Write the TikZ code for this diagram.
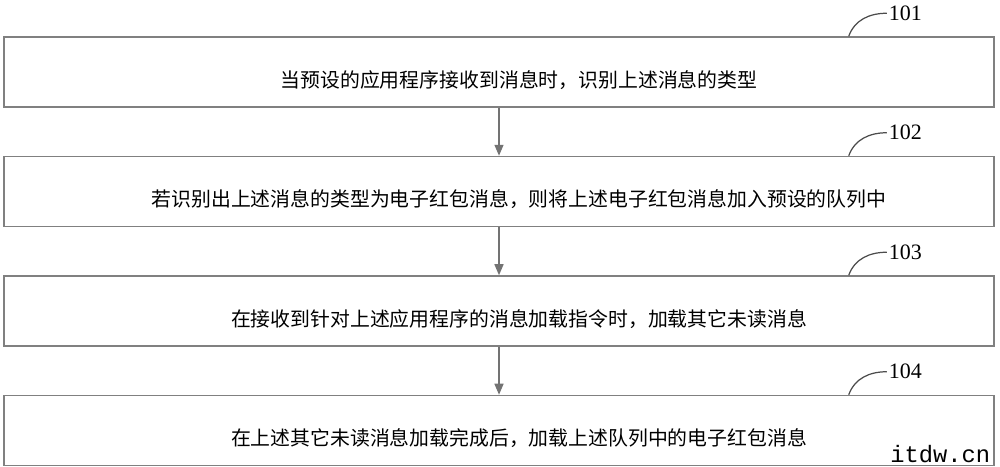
\documentclass[tikz,border=0pt]{standalone}
\usepackage{fontspec}
\setmainfont{Liberation Serif}
\setmonofont{Liberation Mono}
\newfontfamily\cjk{Noto Sans CJK SC}
\usetikzlibrary{calc, positioning, arrows.meta}

\begin{document}
\begin{tikzpicture}
		[node distance=0.96cm,
		 stepbox/.style={draw=black!50, line width=0.85pt, minimum width=19.8cm, minimum height=1.4cm, inner sep=0pt},
		 steptext/.style={font=\cjk\fontsize{11.3}{13}\selectfont, xshift=0.4cm, yshift=-0.16cm},
		 num/.style={font=\fontsize{12.5}{14}\selectfont, inner sep=1pt, anchor=west},
		 flow/.style={-{Triangle[length=2.2mm, width=1.8mm]}, draw=black!55, line width=0.8pt},
		 lead/.style={draw=black!70, line width=0.7pt}]
	
		\clip (0,0) rectangle (20,-9.32);
	
		% nodes %
		\node[stepbox, label={[steptext]center:{当预设的应用程序接收到消息时，识别上述消息的类型}}] (s1) at (9.98,-1.44) {};
		\node[stepbox, below = of s1, label={[steptext]center:{若识别出上述消息的类型为电子红包消息，则将上述电子红包消息加入预设的队列中}}] (s2) {};
		\node[stepbox, below = of s2, label={[steptext]center:{在接收到针对上述应用程序的消息加载指令时，加载其它未读消息}}] (s3) {};
		\node[stepbox, below = of s3, label={[steptext]center:{在上述其它未读消息加载完成后，加载上述队列中的电子红包消息}}] (s4) {};
	
		% labels %
		\node[num] (n1) at ($(s1.north east)+(-2.16,0.46)$) {101};
		\node[num] (n2) at ($(s2.north east)+(-2.16,0.46)$) {102};
		\node[num] (n3) at ($(s3.north east)+(-2.16,0.46)$) {103};
		\node[num] (n4) at ($(s4.north east)+(-2.16,0.46)$) {104};
		\coordinate (c1) at ($(s1.north east)+(-2.92,0)$);
		\coordinate (c2) at ($(s2.north east)+(-2.92,0)$);
		\coordinate (c3) at ($(s3.north east)+(-2.92,0)$);
		\coordinate (c4) at ($(s4.north east)+(-2.92,0)$);
	
		% edges %
		\draw[flow] (s1) -- (s2);
		\draw[flow] (s2) -- (s3);
		\draw[flow] (s3) -- (s4);
		\draw[lead] (c1) to[out=70, in=180] (n1.west);
		\draw[lead] (c2) to[out=70, in=180] (n2.west);
		\draw[lead] (c3) to[out=70, in=180] (n3.west);
		\draw[lead] (c4) to[out=70, in=180] (n4.west);
	
		% watermark %
		\node[anchor=base west, inner sep=0pt, font=\ttfamily\fontsize{13.5}{15}\selectfont] (wm) at (17.8,-9.24) {itdw.cn};
	
		\end{tikzpicture}
\end{document}
